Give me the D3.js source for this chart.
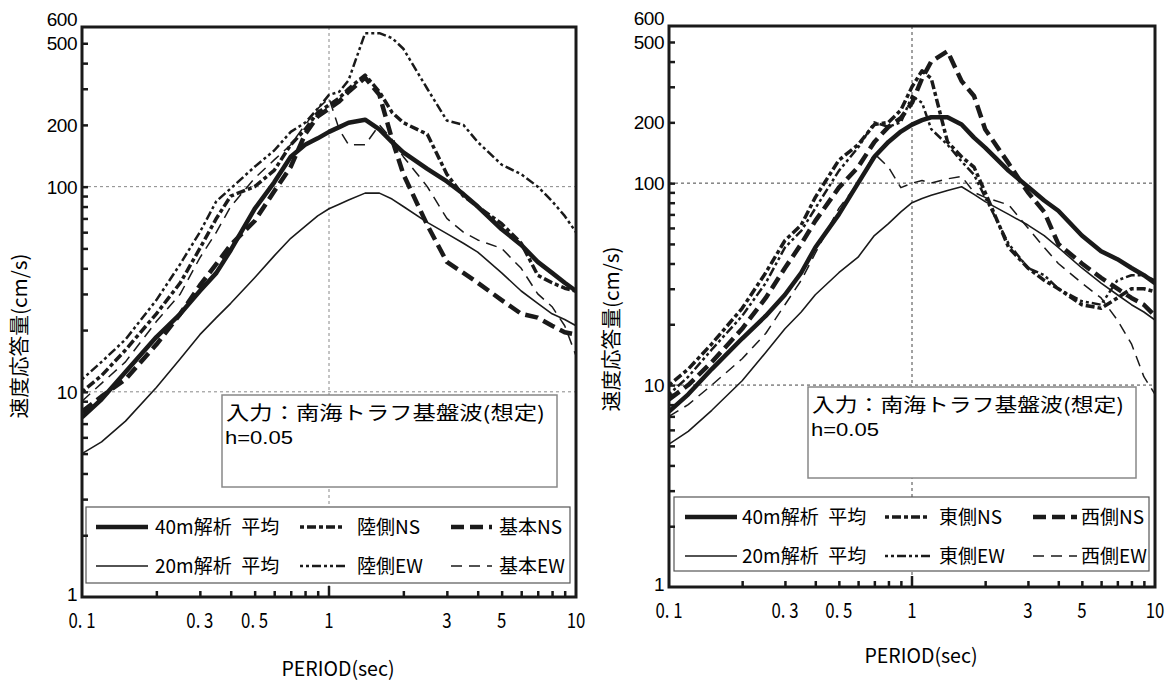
<!DOCTYPE html>
<html>
<head>
<meta charset="utf-8">
<script src="https://cdn.jsdelivr.net/npm/d3@7"></script>
<style>
  body { margin: 0; background: #fff; }
  svg { display: block; }
</style>
</head>
<body>
<div id="chart"></div>
<script>
// periods (sec) shared by every curve
var periods = [0.1, 0.12, 0.15, 0.2, 0.25, 0.3, 0.35, 0.4, 0.5, 0.6, 0.7, 0.8, 0.9, 1.0, 1.1, 1.2, 1.4, 1.6, 1.8, 2.0, 2.5, 3.0, 3.5, 4, 5, 6, 7, 8, 9, 10];

// left chart (陸側 / 基本)
var left40 = [7.5, 9.2, 12.5, 18.5, 24, 31, 38, 49, 78, 105, 140, 160, 172, 185, 195, 205, 212, 190, 165, 147, 122, 106, 92, 80, 62, 52, 43, 38, 34, 31];
var left20 = [5.0, 5.7, 7.2, 10.5, 14.5, 19, 23, 27, 36, 46, 56, 64, 72, 78, 82, 86, 93, 93, 87, 80, 67, 59, 53, 48, 38, 31, 27, 24, 22.5, 21];
var leftRikuNS = [10, 12, 16, 24, 34, 50, 70, 90, 100, 120, 160, 190, 230, 250, 270, 300, 350, 290, 230, 205, 180, 115, 90, 80, 66, 53, 37, 34, 32, 31];
var leftRikuEW = [11.5, 14, 18, 28, 42, 60, 85, 98, 125, 150, 185, 205, 240, 280, 290, 330, 560, 560, 530, 470, 300, 210, 200, 165, 128, 115, 100, 85, 72, 60];
var leftKihonNS = [8, 9.5, 11.5, 17, 24, 33, 42, 52, 68, 95, 125, 180, 220, 240, 260, 290, 340, 280, 170, 115, 65, 43, 38, 34, 28, 24, 23, 21, 19.5, 19];
var leftKihonEW = [9, 11, 14, 22, 30, 45, 60, 80, 110, 135, 160, 200, 240, 270, 190, 160, 160, 200, 170, 140, 100, 70, 60, 55, 50, 40, 30, 26, 21, 15];

// right chart (東側 / 西側)
var right40 = [7.4, 9, 12, 17, 22, 28, 36, 48, 70, 100, 135, 160, 180, 195, 205, 212, 212, 195, 168, 150, 115, 96, 82, 73, 55, 46, 42, 38, 35, 32];
var right20 = [5.1, 5.9, 7.5, 10.5, 14.5, 19, 23, 28, 36, 43, 55, 63, 72, 80, 84, 87, 92, 96, 88, 81, 70, 62, 55, 48, 38, 32, 28, 25, 23, 21];
var rightHigashiNS = [10, 12, 16, 24, 36, 52, 62, 85, 130, 155, 195, 200, 230, 300, 360, 330, 160, 135, 120, 90, 48, 38, 33, 30, 25, 24, 27, 30, 30, 29];
var rightHigashiEW = [9, 11, 15, 22, 32, 48, 58, 75, 115, 150, 200, 190, 200, 270, 250, 185, 155, 128, 110, 85, 50, 38, 35, 30, 26, 25, 33, 35, 35, 33];
var rightNishiNS = [8.5, 10, 13, 19, 27, 38, 50, 65, 95, 120, 160, 190, 210, 250, 330, 400, 450, 320, 270, 185, 125, 90, 72, 50, 40, 34, 30, 27, 25, 22];
var rightNishiEW = [7, 8, 10, 13.5, 18, 25, 33, 45, 75, 100, 140, 120, 95, 100, 103, 100, 105, 108, 90, 85, 78, 60, 48, 40, 32, 27, 21, 16, 11, 9];

// legend labels
var leftLabels = ["40m解析\u2002平均", "20m解析\u2002平均", "陸側NS", "陸側EW", "基本NS", "基本EW"];
var rightLabels = ["40m解析\u2002平均", "20m解析\u2002平均", "東側NS", "東側EW", "西側NS", "西側EW"];

// tick labels
var yTickValues = [1, 10, 100, 200, 500, 600];
var xTickValues = [0.1, 0.3, 0.5, 1, 3, 5, 10];
var xTickText = ["0. 1", "0. 3", "0. 5", "1", "3", "5", "10"];

var inputText = "入力：南海トラフ基盤波(想定)";
var dampText = "h=0.05";

// line styles, same order as the series
var styles = [
  { width: 4.5, dash: null },
  { width: 1.6, dash: null },
  { width: 3.5, dash: "4,3,9,3" },
  { width: 2.5, dash: "3,3,3,3,9,3" },
  { width: 4.5, dash: "13,6" },
  { width: 1.5, dash: "11,7" }
];

var svg = d3.select("#chart").append("svg")
  .attr("width", 1172)
  .attr("height", 681);

var jp = "'Noto Sans CJK JP', 'Noto Sans', sans-serif";
var latin = "'Liberation Sans', Arial, sans-serif";

function drawChart(cfg) {
  var x = d3.scaleLog().domain([0.1, 10]).range([cfg.x0, cfg.x1]);
  var y = d3.scaleLog().domain([1, 600]).range([cfg.y1, cfg.y0]);
  var g = svg.append("g");

  // clip for the curves
  g.append("clipPath").attr("id", "clip" + cfg.id)
    .append("rect")
    .attr("x", cfg.x0).attr("y", cfg.y0)
    .attr("width", cfg.x1 - cfg.x0).attr("height", cfg.y1 - cfg.y0);

  // dashed grid at 10, 100 and 1 sec
  [10, 100].forEach(function(v) {
    g.append("line")
      .attr("x1", cfg.x0).attr("x2", cfg.x1)
      .attr("y1", y(v)).attr("y2", y(v))
      .attr("stroke", cfg.gridColor).attr("stroke-width", 1)
      .attr("stroke-dasharray", "3,3");
  });
  g.append("line")
    .attr("x1", x(1)).attr("x2", x(1))
    .attr("y1", cfg.y0).attr("y2", cfg.y1)
    .attr("stroke", cfg.gridColor).attr("stroke-width", 1)
    .attr("stroke-dasharray", "3,3");

  // curves
  var line = d3.line()
    .x(function(d, i) { return x(periods[i]); })
    .y(function(d) { return y(d); });

  var curves = g.append("g").attr("clip-path", "url(#clip" + cfg.id + ")");
  cfg.series.forEach(function(s, i) {
    curves.append("path")
      .datum(s)
      .attr("d", line)
      .attr("fill", "none")
      .attr("stroke", "#1a1a1a")
      .attr("stroke-width", styles[i].width)
      .attr("stroke-dasharray", styles[i].dash)
      .attr("stroke-linejoin", "round");
  });

  // text box
  var tb = cfg.textBox;
  g.append("rect")
    .attr("x", tb.x).attr("y", tb.y).attr("width", tb.w).attr("height", tb.h)
    .attr("fill", "#fff").attr("stroke", "#888").attr("stroke-width", 1.5);
  g.append("text")
    .attr("x", tb.x + 4).attr("y", tb.y + 25)
    .attr("font-family", jp).attr("font-size", 19)
    .attr("textLength", tb.tl).attr("lengthAdjust", "spacingAndGlyphs")
    .text(inputText);
  g.append("text")
    .attr("x", tb.x + 3).attr("y", tb.y + 49)
    .attr("font-family", latin).attr("font-size", 19)
    .attr("textLength", 68).attr("lengthAdjust", "spacingAndGlyphs")
    .text(dampText);

  // legend box
  var lb = cfg.legendBox;
  g.append("rect")
    .attr("x", lb.x).attr("y", lb.y).attr("width", lb.w).attr("height", lb.h)
    .attr("fill", "#fff").attr("stroke", "#555").attr("stroke-width", 1.2);

  var order = [[0, 2, 4], [1, 3, 5]];
  order.forEach(function(row, r) {
    var ly = lb.y + 20 + r * 39;
    row.forEach(function(si, c) {
      var col = cfg.legendCols[c];
      g.append("line")
        .attr("x1", col[0]).attr("x2", col[1])
        .attr("y1", ly).attr("y2", ly)
        .attr("stroke", "#1a1a1a")
        .attr("stroke-width", styles[si].width)
        .attr("stroke-dasharray", styles[si].dash);
      g.append("text")
        .attr("x", col[2]).attr("y", ly + 7)
        .attr("font-family", jp).attr("font-size", 19)
        .text(cfg.labels[si]);
    });
  });

  // axes: ticks drawn inward, no labels
  var yTicks = [2, 3, 4, 5, 6, 7, 8, 9, 10, 20, 30, 40, 50, 60, 70, 80, 90, 100, 200, 300, 400, 500];
  var xTicks = [0.2, 0.3, 0.4, 0.5, 0.6, 0.7, 0.8, 0.9, 2, 3, 4, 5, 6, 7, 8, 9];

  g.append("g")
    .attr("transform", "translate(" + cfg.x0 + ",0)")
    .call(d3.axisLeft(y).tickValues(yTicks).tickSize(-6).tickFormat(""))
    .call(function(a) { a.select(".domain").remove(); })
    .selectAll("line").attr("stroke", "#1a1a1a").attr("stroke-width", 2.5);

  g.append("g")
    .attr("transform", "translate(0," + cfg.y1 + ")")
    .call(d3.axisBottom(x).tickValues(xTicks).tickSize(-6).tickFormat(""))
    .call(function(a) { a.select(".domain").remove(); })
    .selectAll("line").attr("stroke", "#1a1a1a").attr("stroke-width", 2.5);

  g.append("line")
    .attr("x1", x(1)).attr("x2", x(1))
    .attr("y1", cfg.y1).attr("y2", cfg.y1 - 11)
    .attr("stroke", "#1a1a1a").attr("stroke-width", 2.5);

  // frame
  g.append("rect")
    .attr("x", cfg.x0).attr("y", cfg.y0)
    .attr("width", cfg.x1 - cfg.x0).attr("height", cfg.y1 - cfg.y0)
    .attr("fill", "none").attr("stroke", "#1a1a1a").attr("stroke-width", 3);

  // y tick labels
  g.selectAll(".ylab").data(yTickValues).enter().append("text")
    .attr("x", cfg.x0 - 5)
    .attr("y", function(d) {
      if (d === 600) return y(d) - 1;
      if (d === 1) return y(d) + 4;
      return y(d) + 7;
    })
    .attr("text-anchor", "end")
    .attr("font-family", latin)
    .attr("font-size", 19)
    .attr("letter-spacing", -0.5)
    .text(function(d) { return d; });

  // x tick labels
  g.selectAll(".xlab").data(xTickValues).enter().append("text")
    .attr("transform", function(d) { return "translate(" + x(d) + "," + (cfg.y1 + 31) + ") scale(0.8,1)"; })
    .attr("text-anchor", "middle")
    .attr("font-family", jp)
    .attr("font-size", 21)
    .text(function(d, i) { return xTickText[i]; });

  // axis titles
  g.append("text")
    .attr("x", (cfg.x0 + cfg.x1) / 2 + 9).attr("y", cfg.xTitleY)
    .attr("text-anchor", "middle")
    .attr("font-family", jp).attr("font-size", 20)
    .attr("textLength", 113).attr("lengthAdjust", "spacingAndGlyphs")
    .text("PERIOD(sec)");

  g.append("text")
    .attr("transform", "translate(" + cfg.yTitleX + "," + cfg.yTitleY + ") rotate(-90)")
    .attr("text-anchor", "middle")
    .attr("font-family", jp).attr("font-size", 20)
    .attr("textLength", 165).attr("lengthAdjust", "spacingAndGlyphs")
    .text("速度応答量(cm/s)");
}

drawChart({
  id: "L", x0: 82, x1: 576, y0: 27, y1: 597, gridColor: "#888",
  series: [left40, left20, leftRikuNS, leftRikuEW, leftKihonNS, leftKihonEW],
  labels: leftLabels,
  textBox: { x: 222, y: 395, w: 335, h: 92, tl: 319 },
  legendBox: { x: 86, y: 507, w: 484, h: 76 },
  legendCols: [[96, 148, 155], [300, 345, 357], [451, 492, 499]],
  xTitleY: 676, yTitleX: 27, yTitleY: 336
});

drawChart({
  id: "R", x0: 669, x1: 1155, y0: 26, y1: 587, gridColor: "#444",
  series: [right40, right20, rightHigashiNS, rightHigashiEW, rightNishiNS, rightNishiEW],
  labels: rightLabels,
  textBox: { x: 808, y: 387, w: 328, h: 91, tl: 312 },
  legendBox: { x: 674, y: 497, w: 475, h: 74 },
  legendCols: [[685, 737, 742], [885, 930, 939], [1033, 1077, 1081]],
  xTitleY: 663, yTitleX: 619, yTitleY: 329
});
</script>
</body>
</html>
